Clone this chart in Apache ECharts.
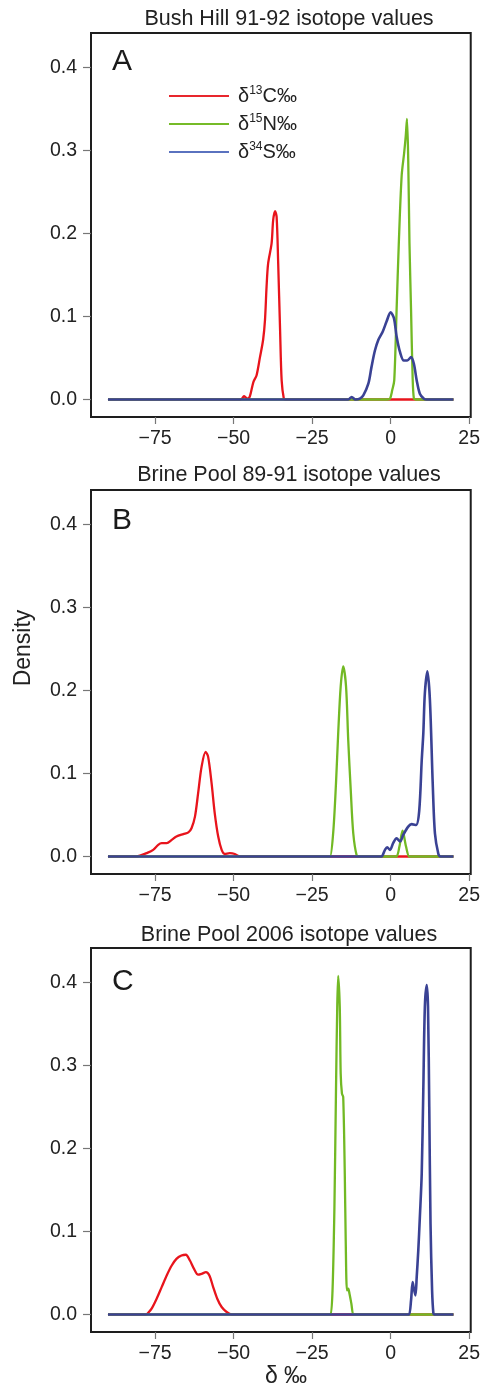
<!DOCTYPE html>
<html>
<head>
<meta charset="utf-8">
<script src="https://cdn.jsdelivr.net/npm/echarts@6/dist/echarts.min.js"></script>
<style>
html,body{margin:0;padding:0;background:#fff;}
#chart{width:483px;height:1388px;}
</style>
</head>
<body>
<div id="chart"></div>
<script>
// ---- data (x = delta permil, y = density) ----
const panelTitles = ['Bush Hill 91-92 isotope values', 'Brine Pool 89-91 isotope values', 'Brine Pool 2006 isotope values'];
const panelLetters = ['A', 'B', 'C'];
const seriesNames = ['C', 'N', 'S'];
const seriesMass = ['13', '15', '34'];
const xTicks = [-75, -50, -25, 0, 25];
const yTicks = [0, 0.1, 0.2, 0.3, 0.4];

const bushHillC = [[-90,0],[-48,0],[-47.3,0.001],[-46.7,0.004],[-46.0,0.002],[-45.5,0.001],[-44.8,0.004],[-43.7,0.021],[-42.7,0.029],[-41.6,0.051],[-40.6,0.072],[-40.0,0.096],[-39.5,0.136],[-39.0,0.164],[-37.9,0.188],[-37.4,0.216],[-36.8,0.227],[-36.3,0.220],[-35.8,0.164],[-35.2,0.084],[-34.7,0.023],[-34.0,0.001],[-33.5,0],[20,0]];
const bushHillN = [[-90,0],[-1,0],[-0.2,0.001],[0.5,0.011],[1.15,0.023],[1.9,0.108],[2.6,0.188],[3.5,0.269],[4.3,0.297],[4.8,0.317],[5.2,0.338],[5.6,0.289],[6.0,0.188],[6.5,0.108],[7.0,0.027],[7.4,0.001],[8,0],[20,0]];
const bushHillS = [[-90,0],[-13.5,0],[-12.4,0.003],[-11.2,0],[-9.8,0.001],[-8.7,0.005],[-7.1,0.019],[-6.1,0.039],[-5.0,0.059],[-3.9,0.072],[-2.5,0.082],[-1.3,0.094],[0,0.105],[1.05,0.098],[1.9,0.076],[3.0,0.057],[4.2,0.047],[5.3,0.047],[6.5,0.051],[7.4,0.043],[8.3,0.023],[9.3,0.007],[10.6,0.001],[11.5,0],[20,0]];

const brine8991C = [[-90,0],[-81,0],[-79.8,0.001],[-77.7,0.004],[-75.6,0.008],[-74.0,0.014],[-72.9,0.016],[-71.3,0.016],[-69.7,0.020],[-68.2,0.024],[-66.0,0.027],[-64.4,0.029],[-63.4,0.034],[-62.3,0.048],[-61.3,0.076],[-60.2,0.108],[-58.9,0.126],[-58.1,0.120],[-57.0,0.088],[-56.0,0.052],[-54.9,0.024],[-53.8,0.008],[-52.8,0.003],[-51.2,0.004],[-49.6,0.003],[-48.0,0],[20,0]];
const brine8991N = [[-90,0],[-20,0],[-19.3,0],[-18.3,0.028],[-17.4,0.088],[-16.7,0.148],[-15.9,0.205],[-15.1,0.229],[-14.2,0.205],[-13.5,0.140],[-12.7,0.080],[-11.9,0.028],[-10.8,0.001],[-10,0],[1.2,0],[1.9,0],[2.8,0.012],[3.8,0.031],[4.9,0.012],[5.9,0],[6.5,0],[20,0]];
const brine8991S = [[-90,0],[-3.5,0],[-2.9,0],[-1.8,0.008],[-1.1,0.011],[-0.2,0.008],[0.8,0.016],[1.9,0.022],[3.0,0.018],[4.0,0.026],[5.6,0.036],[6.7,0.039],[8.1,0.038],[9.1,0.055],[9.9,0.116],[10.4,0.148],[10.9,0.197],[11.7,0.223],[12.5,0.189],[13.4,0.088],[14.1,0.028],[15.2,0.003],[15.9,0],[20,0]];

const brine2006C = [[-90,0],[-78,0],[-77.2,0.002],[-76.1,0.007],[-74.5,0.019],[-72.9,0.033],[-71.3,0.047],[-69.7,0.059],[-68.2,0.067],[-66.6,0.071],[-65.2,0.072],[-63.9,0.065],[-62.6,0.055],[-61.3,0.048],[-60.2,0.049],[-58.8,0.051],[-57.7,0.047],[-56.5,0.033],[-55.2,0.019],[-53.8,0.009],[-52.2,0.003],[-50.6,0],[20,0]];
const brine2006N = [[-90,0],[-19.7,0],[-19.1,0],[-18.5,0.029],[-17.9,0.129],[-17.4,0.270],[-17.0,0.371],[-16.7,0.408],[-16.2,0.371],[-15.9,0.290],[-15.5,0.266],[-15.1,0.262],[-14.6,0.170],[-14.3,0.089],[-13.9,0.029],[-13.5,0.031],[-13.1,0.025],[-12.5,0.013],[-11.9,0],[-11.3,0],[20,0]];
const brine2006S = [[-90,0],[5.3,0],[5.9,0],[6.5,0.017],[7.0,0.039],[7.4,0.031],[7.9,0.023],[8.3,0.045],[8.8,0.077],[9.3,0.117],[9.9,0.170],[10.4,0.270],[10.9,0.371],[11.5,0.397],[11.9,0.371],[12.3,0.250],[12.7,0.109],[13.2,0.029],[13.6,0.002],[13.9,0],[14.5,0],[20,0]];

const panelData = [
  [bushHillC, bushHillN, bushHillS],
  [brine8991C, brine8991N, brine8991S],
  [brine2006C, brine2006N, brine2006S]
];

// ---- styling ----
const FONT = '"Liberation Sans", Arial, Helvetica, sans-serif';
const colors = ['#e8141c', '#72b924', '#3a4294'];
const legendColors = ['#e8262d', '#76bb28', '#5a72bf'];
const gridTops = [33, 490, 948];
const gridH = 384;
const gridLeft = 91, gridW = 380;

const chart = echarts.init(document.getElementById('chart'), null, {renderer: 'canvas'});

const grids = [], xAxes = [], yAxes = [], series = [], graphics = [];
gridTops.forEach((top, i) => {
  grids.push({left: gridLeft, top: top, width: gridW, height: gridH, show: true,
    borderColor: '#1e1e1e', borderWidth: 2, backgroundColor: 'transparent', containLabel: false});
  xAxes.push({type: 'value', gridIndex: i, min: -95.4, max: 25.5, position: 'bottom',
    axisLine: {show: false, onZero: false}, splitLine: {show: false},
    axisTick: {show: true, length: 7, customValues: xTicks, lineStyle: {color: '#777', width: 1.2}},
    axisLabel: {customValues: xTicks, margin: 12, fontSize: 19.5, color: '#222', fontFamily: FONT,
      formatter: v => v < 0 ? '\u2212' + Math.abs(v) : String(v)}});
  yAxes.push({type: 'value', gridIndex: i, min: -0.0211, max: 0.4416, position: 'left',
    axisLine: {show: false, onZero: false}, splitLine: {show: false},
    axisTick: {show: true, length: 8, customValues: yTicks, lineStyle: {color: '#777', width: 1.2}},
    axisLabel: {customValues: yTicks, margin: 14, fontSize: 19.5, color: '#222', fontFamily: FONT,
      formatter: v => v.toFixed(1)}});
  panelData[i].forEach((d, k) => {
    series.push({type: 'line', name: seriesNames[k], xAxisIndex: i, yAxisIndex: i,
      data: d, showSymbol: false, smooth: 0.3, z: 2 + k,
      lineStyle: {color: colors[k], width: k === 2 ? 2.6 : 2.3}, itemStyle: {color: colors[k]},
      emphasis: {disabled: true}, animation: false});
  });
  graphics.push({type: 'text', x: 289, y: [19.5, 475.5, 935][i],
    style: {text: panelTitles[i], font: '21.5px ' + FONT, fill: '#222', textAlign: 'center', textVerticalAlign: 'middle'}});
  graphics.push({type: 'text', x: 112, y: [61.5, 520.5, 982][i],
    style: {text: panelLetters[i], font: '30px ' + FONT, fill: '#1a1a1a', textAlign: 'left', textVerticalAlign: 'middle'}});
});

graphics.push({type: 'text', x: 24, y: 648, rotation: Math.PI / 2,
  style: {text: 'Density', font: '23px ' + FONT, fill: '#222', textAlign: 'center', textVerticalAlign: 'middle'}});
graphics.push({type: 'text', x: 286, y: 1377,
  style: {text: '\u03b4 \u2030', font: '23px ' + FONT, fill: '#222', textAlign: 'center', textVerticalAlign: 'middle'}});

chart.setOption({
  backgroundColor: '#fff',
  animation: false,
  grid: grids, xAxis: xAxes, yAxis: yAxes, series: series,
  legend: {
    show: true, orient: 'vertical', left: 169, top: 85, padding: 0, itemWidth: 60, itemHeight: 2, itemGap: 7,
    icon: 'rect', selectedMode: false,
    data: seriesNames.map((n, k) => ({name: n, itemStyle: {color: legendColors[k]}})),
    formatter: n => '{g|\u03b4}{s|' + seriesMass[seriesNames.indexOf(n)] + '}{g|' + n + '\u2030}',
    textStyle: {padding: [0, 0, 0, 4], rich: {
      g: {fontSize: 20, fontFamily: FONT, color: '#222', lineHeight: 22},
      s: {fontSize: 12, fontFamily: FONT, color: '#222', lineHeight: 22, verticalAlign: 'top', padding: [0, 0, 8, 0]}
    }}
  },
  graphic: graphics
});
</script>
</body>
</html>
